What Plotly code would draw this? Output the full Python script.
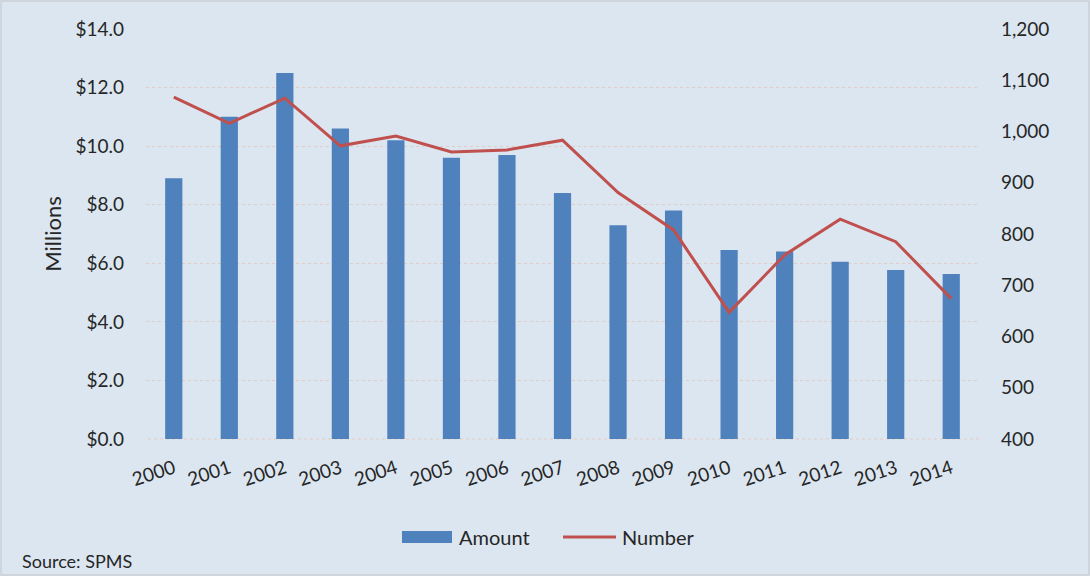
import plotly.graph_objects as go

years = [str(y) for y in range(2000, 2015)]
amount = [8.9, 11.0, 12.5, 10.6, 10.2, 9.6, 9.7, 8.4, 7.3, 7.8, 6.45, 6.4, 6.05, 5.77, 5.63]
number = [1067, 1016, 1065, 972, 991, 960, 964, 983, 881, 808, 647, 759, 829, 785, 674]

left_ticks = [0, 2, 4, 6, 8, 10, 12, 14]
right_ticks = [400, 500, 600, 700, 800, 900, 1000, 1100, 1200]

W, H = 1090, 576
L, R, T, B = 146, 111, 29, 137
pw, ph = W - L - R, H - T - B

def px(x):
    return (x - L) / pw

def py(y):
    return (H - B - y) / ph

FONT = "Lato"
TXT = "#262626"
BAR = "#4F81BD"
LINE = "#C0504D"
GRID = "#E2CBC2"

fig = go.Figure()
fig.add_trace(go.Bar(x=years, y=amount, name="Amount", marker_color=BAR,
                     marker_line_width=0, width=0.31, yaxis="y", showlegend=False))
fig.add_trace(go.Scatter(x=years, y=number, name="Number", mode="lines",
                         line=dict(color=LINE, width=3), yaxis="y2", showlegend=False))

leg_y = 537
fig.update_layout(
    width=W, height=H,
    margin=dict(l=L, r=R, t=T, b=B),
    paper_bgcolor="#DCE6F1", plot_bgcolor="#DCE6F1",
    font=dict(family=FONT, size=19, color=TXT),
    xaxis=dict(type="category", tickangle=-18, showgrid=False, showline=False,
               tickfont=dict(size=19, color=TXT), ticks="", ticklabelstandoff=14),
    yaxis=dict(range=[0, 14], tickvals=left_ticks,
               ticktext=[f"${v:.1f}" for v in left_ticks],
               showgrid=True, gridcolor=GRID, griddash="dot", gridwidth=1,
               zeroline=False, showline=False, ticklabelstandoff=21,
               title=dict(text="Millions", font=dict(size=22, color=TXT), standoff=7)),
    yaxis2=dict(range=[400, 1200], tickvals=right_ticks,
                ticktext=[f"{v:,}" for v in right_ticks],
                overlaying="y", side="right", showgrid=False, zeroline=False,
                showline=False, ticklabelstandoff=21),
    annotations=[
        dict(text="Source: SPMS", xref="paper", yref="paper",
             x=px(20), y=py(561), xanchor="left", yanchor="middle",
             showarrow=False, font=dict(size=18, color=TXT)),
        dict(text="Amount", xref="paper", yref="paper",
             x=px(457), y=py(leg_y), xanchor="left", yanchor="middle",
             showarrow=False, font=dict(size=20, color=TXT)),
        dict(text="Number", xref="paper", yref="paper",
             x=px(620), y=py(leg_y), xanchor="left", yanchor="middle",
             showarrow=False, font=dict(size=20, color=TXT)),
    ],
    shapes=[
        dict(type="line", xref="paper", yref="paper", x0=px(148), x1=px(979),
             y0=0, y1=0, line=dict(color=GRID, width=1, dash="dot"), layer="below"),
        dict(type="rect", xref="paper", yref="paper", x0=px(402), x1=px(452),
             y0=py(leg_y + 6), y1=py(leg_y - 6), fillcolor=BAR, line=dict(width=0)),
        dict(type="line", xref="paper", yref="paper", x0=px(563), x1=px(616),
             y0=py(leg_y), y1=py(leg_y), line=dict(color=LINE, width=3)),
        dict(type="rect", xref="paper", yref="paper", x0=px(1), x1=px(1089),
             y0=py(575), y1=py(1), line=dict(color="#C9CFD6", width=1.5)),
    ],
)

fig.write_html("out.html", config={"displayModeBar": False},
               post_script="document.body.style.margin='0';document.body.style.overflow='hidden';")
